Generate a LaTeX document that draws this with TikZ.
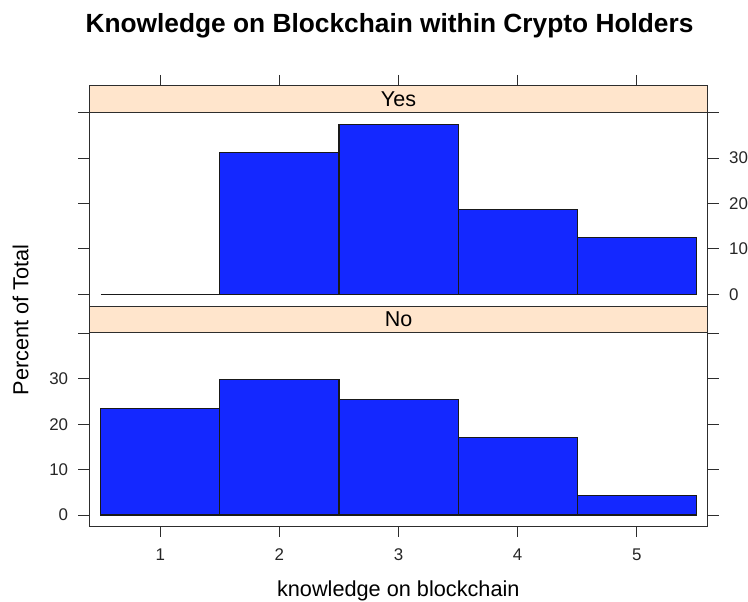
\documentclass[tikz,border=0pt]{standalone}
\usepackage{fontspec}
\setmainfont{Liberation Sans}
\definecolor{barblue}{RGB}{20,40,255}
\definecolor{stripbg}{RGB}{255,229,204}
\definecolor{axisgray}{RGB}{45,45,45}
\begin{document}
\begin{tikzpicture}[x=1pt,y=-1pt,
  frameline/.style={draw=axisgray,line width=0.9pt},
  tickmark/.style={draw=axisgray,line width=0.9pt},
  histbar/.style={fill=barblue,draw=black!90,line width=1.1pt},
  ticklab/.style={font=\fontsize{16.9}{19}\selectfont,inner sep=0pt,text=black!85},
  striplab/.style={font=\fontsize{21.5}{24}\selectfont,inner sep=0pt,anchor=base},
  axislab/.style={font=\fontsize{21.7}{24}\selectfont,inner sep=0pt,anchor=base},
  titlelab/.style={font=\bfseries\fontsize{26.3}{30}\selectfont,inner sep=0pt,anchor=base}]
\useasboundingbox (0,0) rectangle (748,602);

% strips
\fill[stripbg] (89.3,85) rectangle (707.7,112.3);
\fill[stripbg] (89.3,306) rectangle (707.7,332.7);

% panel frames
\draw[frameline] (89.3,85) rectangle (707.7,526.7);
\draw[frameline] (89.3,112.3) -- (707.7,112.3);
\draw[frameline] (89.3,306) -- (707.7,306);
\draw[frameline] (89.3,332.7) -- (707.7,332.7);

% x ticks (top and bottom) with bottom labels
\foreach \v in {1,...,5}{
  \pgfmathsetmacro{\px}{160.3+(\v-1)*119.1}
  \draw[tickmark] (\px,75) -- (\px,85);
  \draw[tickmark] (\px,526.7) -- (\px,537.3);
  \node[ticklab,anchor=base] (xl\v) at (\px,560) {\v};
}

% y ticks: upper panel labelled on the right, lower panel on the left
\foreach \v in {0,10,20,30,40}{
  \pgfmathsetmacro{\uy}{294.3-\v*4.54}
  \pgfmathsetmacro{\ly}{515-\v*4.54}
  \draw[tickmark] (78.3,\uy) -- (89.3,\uy);
  \draw[tickmark] (707.7,\uy) -- (718.7,\uy);
  \draw[tickmark] (78.3,\ly) -- (89.3,\ly);
  \draw[tickmark] (707.7,\ly) -- (718.7,\ly);
}
\foreach \v in {0,10,20,30}{
  \pgfmathsetmacro{\uy}{294.3-\v*4.54}
  \pgfmathsetmacro{\ly}{515-\v*4.54}
  \node[ticklab,anchor=west] (yr\v) at (729,\uy) {\v};
  \node[ticklab,anchor=east] (yl\v) at (68.3,\ly) {\v};
}

% histogram of the "Yes" group (n = 16)
\begin{scope}[shift={(41.2pt,-294.3pt)},x=119.1pt,y=4.54pt]
  \draw[black!90,line width=1.1pt] (0.5,0) -- (1.5,0);
  \draw[histbar] (1.5,0) rectangle (2.5,31.25);
  \draw[histbar] (2.5,0) rectangle (3.5,37.5);
  \draw[histbar] (3.5,0) rectangle (4.5,18.75);
  \draw[histbar] (4.5,0) rectangle (5.5,12.5);
\end{scope}

% histogram of the "No" group (n = 47)
\begin{scope}[shift={(41.2pt,-515pt)},x=119.1pt,y=4.54pt]
  \draw[histbar] (0.5,0) rectangle (1.5,23.40);
  \draw[histbar] (1.5,0) rectangle (2.5,29.79);
  \draw[histbar] (2.5,0) rectangle (3.5,25.53);
  \draw[histbar] (3.5,0) rectangle (4.5,17.02);
  \draw[histbar] (4.5,0) rectangle (5.5,4.26);
\end{scope}

% strip labels
\node[striplab] (yes) at (398.5,106.7) {Yes};
\node[striplab] (no) at (398.5,326.7) {No};

% titles
\node[titlelab] (title) at (389.5,33) {Knowledge on Blockchain within Crypto Holders};
\node[axislab] (xlab) at (398.3,596.7) {knowledge on blockchain};
\node[axislab,rotate=90] (ylab) at (28.3,320) {Percent of Total};
\end{tikzpicture}
\end{document}
